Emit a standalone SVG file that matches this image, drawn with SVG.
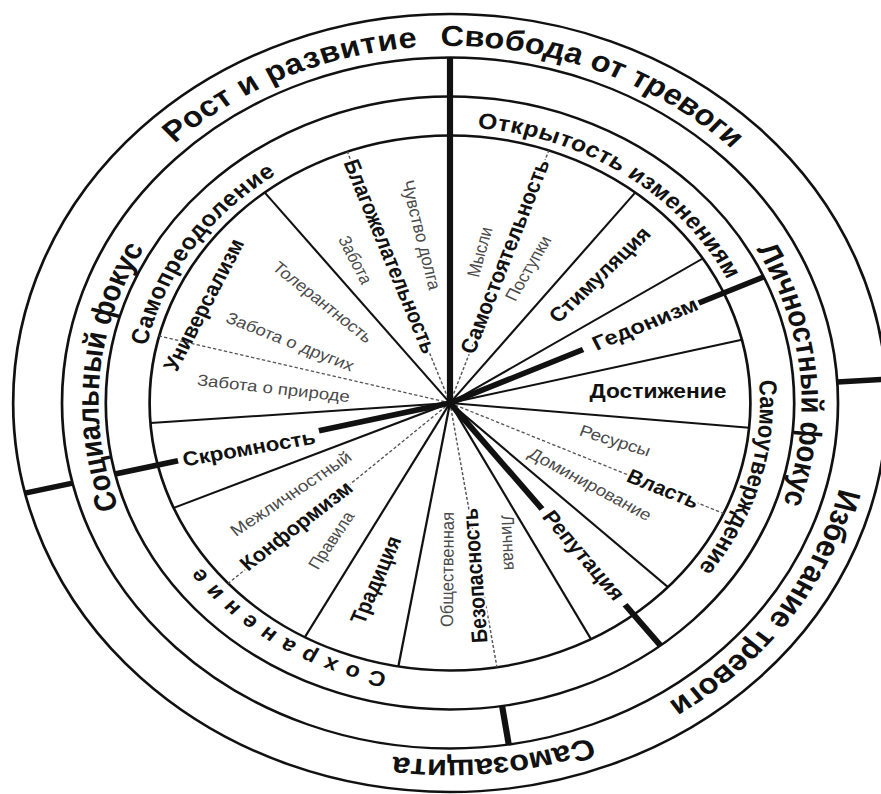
<svg xmlns="http://www.w3.org/2000/svg" width="881" height="794" viewBox="0 0 881 794">
<style>
 .ring{fill:none;stroke:#111;stroke-width:2.4}
 .spoke{stroke:#111;stroke-width:2;fill:none}
 .thick{stroke:#111;stroke-width:5.5;fill:none;stroke-linecap:butt}
 .dot{stroke:#555;stroke-width:1.3;stroke-dasharray:3 2;fill:none}
 text{font-family:"Liberation Sans",Arial,sans-serif}
 .ra{font-size:29px;font-weight:bold;fill:#111}
 .rb{font-size:27.5px;font-weight:bold;fill:#111}
 .rc{font-size:22px;font-weight:bold;fill:#111}
 .lbl{font-size:20px;font-weight:bold;fill:#111}
 .sub{font-size:16px;fill:#4a4a4a}
 .halo{paint-order:stroke;stroke:#fff;stroke-width:4;stroke-linejoin:round}
</style>
<rect width="881" height="794" fill="#fff"/>
<g transform="translate(450,403) scale(1.123,1)">
 <defs>
  <path id="pA" d="M -357,0 A 357,357 0 1,1 357,0 A 357,357 0 1,1 -357,0"/>
  <path id="pB" d="M 0,313 A 313,313 0 1,1 0,-313 A 313,313 0 1,1 0,313"/>
  <path id="pC" d="M -276,0 A 276,276 0 1,1 276,0 A 276,276 0 1,1 -276,0"/>
 </defs>
 <g id="rings">
  <circle class="ring" r="389"/>
  <circle class="ring" r="345.5"/>
  <circle class="ring" r="306.5"/>
  <circle class="ring" r="267.5"/>
 </g>
 <g id="connectors">
  <line class="spoke" x1="0" y1="0" x2="165.0" y2="-210.5"/>
  <line class="spoke" x1="0" y1="0" x2="225.1" y2="-144.5"/>
  <line class="spoke" x1="0" y1="0" x2="259.9" y2="-63.3"/>
  <line class="spoke" x1="0" y1="0" x2="266.4" y2="24.7"/>
  <line class="spoke" x1="0" y1="0" x2="194.0" y2="184.1"/>
  <line class="spoke" x1="0" y1="0" x2="125.6" y2="236.2"/>
  <line class="spoke" x1="0" y1="0" x2="-46.0" y2="263.5"/>
  <line class="spoke" x1="0" y1="0" x2="-129.3" y2="234.2"/>
  <line class="spoke" x1="0" y1="0" x2="-246.0" y2="104.9"/>
  <line class="spoke" x1="0" y1="0" x2="-266.7" y2="20.1"/>
  <line class="spoke" x1="0" y1="0" x2="-165.0" y2="-210.5"/>
  <line class="dot" x1="0" y1="0" x2="88.0" y2="-252.6"/>
  <line class="dot" x1="0" y1="0" x2="-91.5" y2="-251.4"/>
  <line class="dot" x1="0" y1="0" x2="-259.0" y2="-67.0"/>
  <line class="dot" x1="0" y1="0" x2="-197.5" y2="180.4"/>
  <line class="dot" x1="0" y1="0" x2="41.8" y2="264.2"/>
  <line class="dot" x1="0" y1="0" x2="243.6" y2="110.5"/>
  <line class="thick" x1="0" y1="0" x2="0" y2="-345.5"/>
  <line class="thick" x1="0" y1="0" x2="118.5" y2="-53.5"/>
  <line class="thick" x1="221.5" y1="-100.0" x2="279.3" y2="-126.1"/>
  <line class="thick" x1="0" y1="0" x2="81.9" y2="106.0"/>
  <line class="thick" x1="155.9" y1="201.8" x2="187.4" y2="242.5"/>
  <line class="thick" x1="0" y1="0" x2="-116.7" y2="27.8"/>
  <line class="thick" x1="-242.2" y1="57.7" x2="-298.2" y2="71.0"/>
  <line class="thick" x1="-336.1" y1="80.1" x2="-378.4" y2="90.1"/>
  <line class="thick" x1="344.9" y1="-21.1" x2="388.3" y2="-23.7"/>
  <line class="thick" x1="46.4" y1="303.0" x2="52.3" y2="341.5"/>
 </g>
 <g id="outer-ring">
  <text class="ra" text-anchor="middle"><textPath href="#pA" startOffset="411.2" letter-spacing="0.6">Рост и развитие</textPath></text>
  <text class="ra" text-anchor="middle"><textPath href="#pA" startOffset="695.4">Свобода от тревоги</textPath></text>
  <text class="ra" text-anchor="middle"><textPath href="#pA" startOffset="1341.8">Избегание тревоги</textPath></text>
  <text class="ra" text-anchor="middle"><textPath href="#pA" startOffset="1643.1">Самозащита</textPath></text>
 </g>
 <g id="focus-ring">
  <text class="rb" text-anchor="middle"><textPath href="#pB" startOffset="518.7">Социальный фокус</textPath></text>
  <text class="rb" text-anchor="middle"><textPath href="#pB" startOffset="1445.2">Личностный фокус</textPath></text>
 </g>
 <g id="motive-ring">
  <text class="rc" text-anchor="middle"><textPath href="#pC" startOffset="163.8" letter-spacing="0.7">Самопреодоление</textPath></text>
  <text class="rc" text-anchor="middle"><textPath href="#pC" startOffset="598.5" letter-spacing="0.5">Открытость изменениям</textPath></text>
  <text class="rc" text-anchor="middle"><textPath href="#pC" startOffset="943.9">Самоутверждение</textPath></text>
  <text class="rc" text-anchor="middle" style="font-size:21px"><textPath href="#pC" startOffset="1461" letter-spacing="8.4">Сохранение</textPath></text>
 </g>
 <g id="self-direction">
  <text class="lbl halo" transform="translate(49,-146.5) rotate(-70.7)" text-anchor="middle" dominant-baseline="central" textLength="204" lengthAdjust="spacingAndGlyphs">Самостоятельность</text>
  <text class="sub" transform="translate(26.7,-151) rotate(-76)" text-anchor="middle" dominant-baseline="central" textLength="51" lengthAdjust="spacingAndGlyphs">Мысли</text>
  <text class="sub" transform="translate(69.9,-134.5) rotate(-62.4)" text-anchor="middle" dominant-baseline="central" textLength="71" lengthAdjust="spacingAndGlyphs">Поступки</text>
 </g>
 <g id="stimulation">
  <text class="lbl" transform="translate(133.5,-128) rotate(-47)" text-anchor="middle" dominant-baseline="central" textLength="122" lengthAdjust="spacingAndGlyphs">Стимуляция</text>
 </g>
 <g id="hedonism">
  <text class="lbl" transform="translate(173.7,-79) rotate(-24.4)" text-anchor="middle" dominant-baseline="central" textLength="101" lengthAdjust="spacingAndGlyphs">Гедонизм</text>
 </g>
 <g id="achievement">
  <text class="lbl" transform="translate(185.2,-11.5)" text-anchor="middle" dominant-baseline="central" textLength="122" lengthAdjust="spacingAndGlyphs">Достижение</text>
 </g>
 <g id="power">
  <text class="lbl halo" transform="translate(189.7,86) rotate(24.2)" text-anchor="middle" dominant-baseline="central" textLength="68" lengthAdjust="spacingAndGlyphs">Власть</text>
  <text class="sub" transform="translate(147,38) rotate(19.4)" text-anchor="middle" dominant-baseline="central" textLength="66" lengthAdjust="spacingAndGlyphs">Ресурсы</text>
  <text class="sub" transform="translate(124.7,81.5) rotate(31.3)" text-anchor="middle" dominant-baseline="central" textLength="125" lengthAdjust="spacingAndGlyphs">Доминирование</text>
 </g>
 <g id="face">
  <text class="lbl" transform="translate(118.9,152.5) rotate(52.6)" text-anchor="middle" dominant-baseline="central" textLength="107" lengthAdjust="spacingAndGlyphs">Репутация</text>
 </g>
 <g id="security">
  <text class="lbl halo" transform="translate(22.3,172.5) rotate(-93.8)" text-anchor="middle" dominant-baseline="central" textLength="135" lengthAdjust="spacingAndGlyphs">Безопасность</text>
  <text class="sub" transform="translate(-2.2,166.5) rotate(-89.6)" text-anchor="middle" dominant-baseline="central" textLength="115" lengthAdjust="spacingAndGlyphs">Общественная</text>
  <text class="sub" transform="translate(52.1,139.5) rotate(87.2)" text-anchor="middle" dominant-baseline="central" textLength="55" lengthAdjust="spacingAndGlyphs">Личная</text>
 </g>
 <g id="tradition">
  <text class="lbl" transform="translate(-65.9,177) rotate(-68.5)" text-anchor="middle" dominant-baseline="central" textLength="92" lengthAdjust="spacingAndGlyphs">Традиция</text>
 </g>
 <g id="conformity">
  <text class="lbl halo" transform="translate(-136.7,123) rotate(-40.7)" text-anchor="middle" dominant-baseline="central" textLength="125" lengthAdjust="spacingAndGlyphs">Конформизм</text>
  <text class="sub" transform="translate(-141.5,91) rotate(-36.6)" text-anchor="middle" dominant-baseline="central" textLength="130" lengthAdjust="spacingAndGlyphs">Межличностный</text>
  <text class="sub" transform="translate(-105.5,137.5) rotate(-59)" text-anchor="middle" dominant-baseline="central" textLength="64" lengthAdjust="spacingAndGlyphs">Правила</text>
 </g>
 <g id="humility">
  <text class="lbl" transform="translate(-179,45.5) rotate(-11.1)" text-anchor="middle" dominant-baseline="central" textLength="120" lengthAdjust="spacingAndGlyphs">Скромность</text>
 </g>
 <g id="universalism">
  <text class="lbl" transform="translate(-219,-98) rotate(-65)" text-anchor="middle" dominant-baseline="central" textLength="143" lengthAdjust="spacingAndGlyphs">Универсализм</text>
  <text class="sub" transform="translate(-113.5,-100.5) rotate(41.6)" text-anchor="middle" dominant-baseline="central" textLength="113" lengthAdjust="spacingAndGlyphs">Толерантность</text>
  <text class="sub" transform="translate(-142.5,-61) rotate(24)" text-anchor="middle" dominant-baseline="central" textLength="123" lengthAdjust="spacingAndGlyphs">Забота о других</text>
  <text class="sub" transform="translate(-157.2,-14.5) rotate(7.1)" text-anchor="middle" dominant-baseline="central" textLength="137" lengthAdjust="spacingAndGlyphs">Забота о природе</text>
 </g>
 <g id="benevolence">
  <text class="lbl halo" transform="translate(-53.4,-146.5) rotate(69.75)" text-anchor="middle" dominant-baseline="central" textLength="205" lengthAdjust="spacingAndGlyphs">Благожелательность</text>
  <text class="sub" transform="translate(-84.6,-143) rotate(65.1)" text-anchor="middle" dominant-baseline="central" textLength="51" lengthAdjust="spacingAndGlyphs">Забота</text>
  <text class="sub" transform="translate(-25.9,-168) rotate(77.2)" text-anchor="middle" dominant-baseline="central" textLength="112" lengthAdjust="spacingAndGlyphs">Чувство долга</text>
 </g>
</g>
</svg>
